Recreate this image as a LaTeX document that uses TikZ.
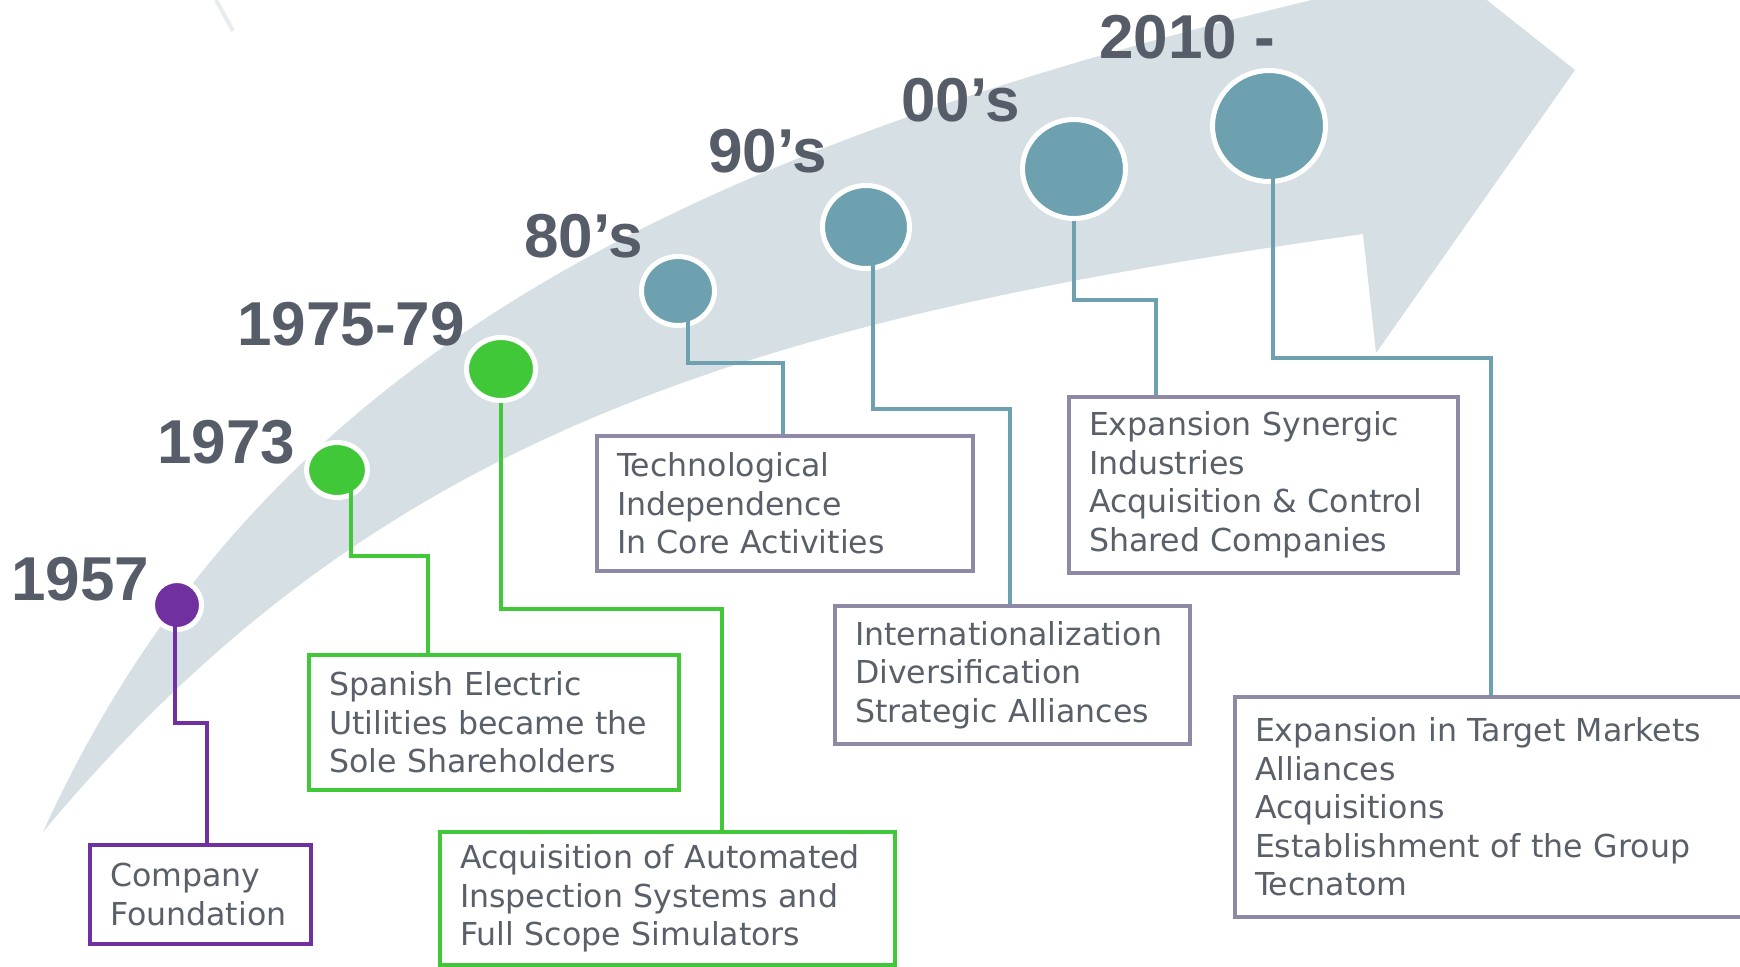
\documentclass[tikz,border=0pt]{standalone}
\usepackage{fontspec}
\usetikzlibrary{shapes.geometric, calc}
\newfontfamily\boxfont{DejaVu Sans}
\newfontfamily\yearfont{Liberation Sans}
\definecolor{bandgray}{RGB}{214,223,228}
\definecolor{stagepurple}{RGB}{112,48,160}
\definecolor{stagegreen}{RGB}{64,200,56}
\definecolor{stageteal}{RGB}{109,161,176}
\definecolor{boxgray}{RGB}{143,137,165}
\definecolor{txtgray}{RGB}{90,96,105}
\definecolor{yeargray}{RGB}{86,92,104}
\tikzset{
  stagedot/.style={ellipse, fill=#1, draw=white, line width=2.5pt, inner sep=0pt},
  stagelink/.style={draw=#1, line width=1.7pt},
  stagebox/.style={draw=#1, fill=white, line width=2pt, anchor=north west,
    inner xsep=10pt, inner ysep=0pt, align=left, text=txtgray,
    font=\boxfont\fontsize{15.8pt}{19.25pt}\selectfont},
  yearlabel/.style={anchor=base west, inner sep=0pt, text=yeargray,
    font=\yearfont\bfseries\fontsize{31pt}{31pt}\selectfont},
}

\begin{document}
\begin{tikzpicture}[x=0.5pt, y=-0.5pt]
    \useasboundingbox (0,0) rectangle (1740,966);
    \clip (0,0) rectangle (1740,966);
    % curved arrow in the background
    \fill[bandgray] (43,832) .. controls (253,370) and (660,156) .. (1320,-2)
        -- (1320,-80) -- (1386,-80) -- (1575,70) -- (1376,353) -- (1363,234)
        .. controls (743,321) and (373,436) .. (43,832) -- cycle;
    \draw[line width=2pt, bandgray!60] (216,0) -- (233,31);

    % years
    \node[yearlabel] (y57) at (11,600) {1957};
    \node[yearlabel] (y73) at (157,463) {1973};
    \node[yearlabel] (y75) at (237,345) {1975-79};
    \node[yearlabel] (y80) at (524,257) {80’s};
    \node[yearlabel] (y90) at (708,172) {90’s};
    \node[yearlabel] (y00) at (901,121) {00’s};
    \node[yearlabel] (y10) at (1099,58) {2010 -};

    % milestones
    \node[stagedot=stagepurple, minimum width=24.5pt, minimum height=24.5pt] (c57) at (177,605) {};
    \node[stagedot=stagegreen, minimum width=30.5pt, minimum height=27.5pt] (c73) at (337,470) {};
    \node[stagedot=stagegreen, minimum width=34.5pt, minimum height=31.5pt] (c75) at (501,369) {};
    \node[stagedot=stageteal, minimum width=36.5pt, minimum height=34.5pt] (c80) at (678,291) {};
    \node[stagedot=stageteal, minimum width=43.5pt, minimum height=41.5pt] (c90) at (866,227) {};
    \node[stagedot=stageteal, minimum width=51.5pt, minimum height=49.5pt] (c00) at (1074,169) {};
    \node[stagedot=stageteal, minimum width=56.5pt, minimum height=55.5pt] (c10) at (1269,126) {};

    % boxes
    \node[stagebox=stagepurple, text width=90.5pt, minimum height=49.5pt] (b57) at (88,843) {Company\\Foundation};
    \node[stagebox=stagegreen, text width=165pt, minimum height=67.5pt] (b73) at (307,653) {Spanish Electric\\Utilities became the\\Sole Shareholders};
    \node[stagebox=stagegreen, text width=207.5pt, minimum height=66.5pt] (b75) at (438,830) {Acquisition of Automated\\Inspection Systems and\\Full Scope Simulators};
    \node[stagebox=boxgray, text width=168pt, minimum height=67.5pt] (b80) at (595,434) {Technological\\Independence\\In Core Activities};
    \node[stagebox=boxgray, text width=157.5pt, minimum height=69pt] (b90) at (833,604) {\mbox{Internationalization}\\Diversification\\Strategic Alliances};
    \node[stagebox=boxgray, text width=174.5pt, minimum height=88pt] (b00) at (1067,395) {Expansion Synergic\\Industries\\Acquisition \& Control\\Shared Companies};
    \node[stagebox=boxgray, text width=243.5pt, minimum height=110pt] (b10) at (1233,695) {Expansion in Target Markets\\Alliances\\Acquisitions\\Establishment of the Group\\Tecnatom};

    % links
    \draw[stagelink=stagepurple] ($(c57)+(-2,0)$) -- ++(0,118) -| ($(b57.north west)+(119,0)$);
    \draw[stagelink=stagegreen] ($(c73)+(14,0)$) -- ++(0,86) -| ($(b73.north west)+(121,0)$);
    \draw[stagelink=stagegreen] (c75) -- ++(0,240) -| ($(b75.north west)+(284,0)$);
    \draw[stagelink=stageteal] ($(c80)+(10,0)$) -- ++(0,72) -| ($(b80.north west)+(188,0)$);
    \draw[stagelink=stageteal] ($(c90)+(7,0)$) -- ++(0,182) -| ($(b90.north west)+(177,0)$);
    \draw[stagelink=stageteal] (c00) -- ++(0,131) -| ($(b00.north west)+(89,0)$);
    \draw[stagelink=stageteal] ($(c10)+(4,0)$) -- ++(0,232) -| ($(b10.north west)+(258,0)$);
\end{tikzpicture}
\end{document}
